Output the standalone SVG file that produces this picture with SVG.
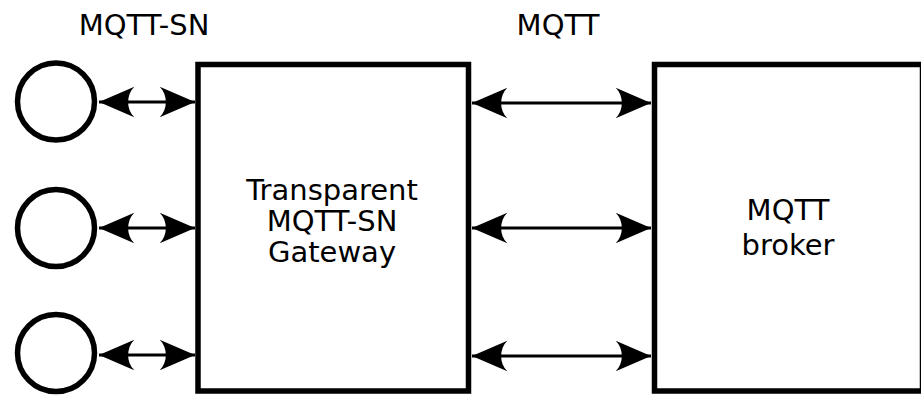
<svg xmlns="http://www.w3.org/2000/svg" width="921" height="397" viewBox="0 0 921 397">
<style>
.box{fill:#fff;stroke:#000;stroke-width:5.5}
.node{fill:#fff;stroke:#000;stroke-width:5.5}
.conn{stroke:#000;stroke-width:3;fill:none}
.lbl{font-family:"DejaVu Sans",sans-serif;font-size:29px;fill:#000;text-anchor:middle}
</style>
<defs>
<marker id="ah" markerUnits="userSpaceOnUse" markerWidth="40" markerHeight="40" viewBox="-32 -15 34 30" refX="0" refY="0" orient="auto-start-reverse">
<path d="M0,0 L-30,-13 C-23,-6 -23,6 -30,13 Z" fill="#000"/>
</marker>
</defs>
<rect width="921" height="397" fill="#fff"/>
<g id="labels">
<text class="lbl" x="144" y="35">MQTT-SN</text>
<text class="lbl" x="558" y="35">MQTT</text>
</g>
<g id="connectors">
<line class="conn" x1="99" y1="102" x2="195" y2="102" marker-start="url(#ah)" marker-end="url(#ah)"/>
<line class="conn" x1="99" y1="228" x2="195" y2="228" marker-start="url(#ah)" marker-end="url(#ah)"/>
<line class="conn" x1="99" y1="355" x2="195" y2="355" marker-start="url(#ah)" marker-end="url(#ah)"/>
<line class="conn" x1="472" y1="103" x2="651" y2="103" marker-start="url(#ah)" marker-end="url(#ah)"/>
<line class="conn" x1="472" y1="228" x2="651" y2="228" marker-start="url(#ah)" marker-end="url(#ah)"/>
<line class="conn" x1="472" y1="356" x2="651" y2="356" marker-start="url(#ah)" marker-end="url(#ah)"/>
</g>
<g id="client1"><circle class="node" cx="56" cy="101.5" r="38.5"/></g>
<g id="client2"><circle class="node" cx="56" cy="228" r="38.5"/></g>
<g id="client3"><circle class="node" cx="56" cy="353" r="38.5"/></g>
<g id="gateway">
<rect class="box" x="198" y="64.5" width="270.5" height="326.5"/>
<text class="lbl" x="332" y="200">Transparent</text>
<text class="lbl" x="332" y="231">MQTT-SN</text>
<text class="lbl" x="332" y="262">Gateway</text>
</g>
<g id="broker">
<rect class="box" x="654.5" y="64.5" width="268" height="326.5"/>
<text class="lbl" x="788" y="220">MQTT</text>
<text class="lbl" x="788" y="255">broker</text>
</g>
</svg>
